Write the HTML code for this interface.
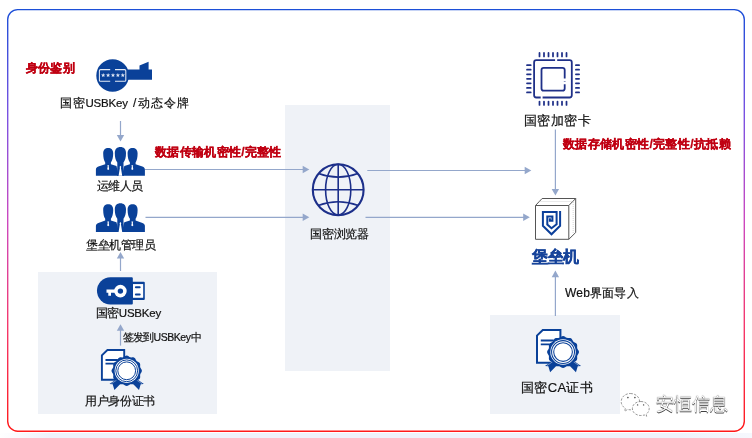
<!DOCTYPE html>
<html><head><meta charset="utf-8">
<style>
html,body{margin:0;padding:0;background:#fff;}
body{width:752px;height:438px;position:relative;overflow:hidden;font-family:"Liberation Sans",sans-serif;color:#111;}
.a{position:absolute;}
.t{position:absolute;white-space:nowrap;line-height:1;font-size:13px;will-change:transform;-webkit-text-stroke:0.2px #111;}
.red{color:#c00012;font-weight:bold;font-size:12px;-webkit-text-stroke:0.3px #c00012;letter-spacing:0.25px;}
.l1{font-size:11.5px;letter-spacing:-0.2px;}
.l2{font-size:10.5px;letter-spacing:-0.45px;}
.sl{letter-spacing:2px;}
.panel{position:absolute;background:#eff2f7;}
svg{position:absolute;left:0;top:0;}
</style></head><body>
<div class="a" style="left:0;top:433px;width:752px;height:5px;background:linear-gradient(90deg,#fff 0px,#eef2fb 50px,#eef2fb 680px,#f6f8fd 752px)"></div>
<div class="panel" style="left:285px;top:105px;width:105px;height:266px"></div>
<div class="panel" style="left:38px;top:272px;width:179px;height:142px"></div>
<div class="panel" style="left:490px;top:315px;width:130px;height:99px"></div>

<svg width="752" height="438" viewBox="0 0 752 438">
<defs>
<linearGradient id="bg" x1="0" y1="0" x2="0" y2="1">
<stop offset="0" stop-color="#1c4fd8"/>
<stop offset="0.25" stop-color="#7a52e2"/>
<stop offset="0.5" stop-color="#cc48c0"/>
<stop offset="0.75" stop-color="#f5386c"/>
<stop offset="1" stop-color="#ff1a1a"/>
</linearGradient>
</defs>
<rect x="7.7" y="9.6" width="736.6" height="421.6" rx="10" ry="10" fill="none" stroke="url(#bg)" stroke-width="1.4"/>

<!-- connector lines -->
<g stroke="#94a7cb" stroke-width="1.2" fill="none">
<line x1="120.5" y1="121" x2="120.5" y2="136"/>
<line x1="145" y1="169.5" x2="304" y2="169.5"/>
<line x1="145.5" y1="217.3" x2="304" y2="217.3"/>
<line x1="120.5" y1="257" x2="120.5" y2="271"/>
<line x1="120.5" y1="330" x2="120.5" y2="345.6"/>
<line x1="367.3" y1="170.5" x2="526" y2="170.5"/>
<line x1="365.5" y1="217.3" x2="524" y2="217.3"/>
<line x1="555.4" y1="129.6" x2="555.4" y2="189"/>
<line x1="555.4" y1="276" x2="555.4" y2="316"/>
</g>
<g fill="#94a7cb">
<path d="M120.5,141.6 L116.8,135 L124.2,135 Z"/>
<path d="M120.5,252 L116.8,258.6 L124.2,258.6 Z"/>
<path d="M120.5,324.2 L116.8,330.8 L124.2,330.8 Z"/>
<path d="M309.3,169.5 L302.7,165.8 L302.7,173.2 Z"/>
<path d="M309.3,217.3 L302.7,213.6 L302.7,221 Z"/>
<path d="M531.3,170.5 L524.7,166.8 L524.7,174.2 Z"/>
<path d="M529.8,217.3 L523.2,213.6 L523.2,221 Z"/>
<path d="M555.4,195.5 L551.7,188.9 L559.1,188.9 Z"/>
<path d="M555.4,270.6 L551.7,277.2 L559.1,277.2 Z"/>
</g>

<!-- key token icon -->
<g fill="#0a4199">
<circle cx="112.6" cy="75.5" r="16.3"/>
<path d="M126,69.4 H139.5 V65.5 L148.6,61.7 V69.4 H152 V79.7 H126 Z"/>
</g>
<g fill="none" stroke="#e4eaf5" stroke-width="1.05">
<path d="M110.2,69.6 H100.6 Q99.4,69.6 99.4,70.8 V80.2 Q99.4,81.3 100.6,81.3 H110.2"/>
<path d="M115,69.6 H124.6 Q125.8,69.6 125.8,70.8 V80.2 Q125.8,81.3 124.6,81.3 H115"/>
</g>
<g fill="#dfe6f3">
<polygon points="103.20,72.90 103.79,74.39 105.39,74.49 104.15,75.51 104.55,77.06 103.20,76.20 101.85,77.06 102.25,75.51 101.01,74.49 102.61,74.39"/>
<polygon points="108.10,72.90 108.69,74.39 110.29,74.49 109.05,75.51 109.45,77.06 108.10,76.20 106.75,77.06 107.15,75.51 105.91,74.49 107.51,74.39"/>
<polygon points="113.00,72.90 113.59,74.39 115.19,74.49 113.95,75.51 114.35,77.06 113.00,76.20 111.65,77.06 112.05,75.51 110.81,74.49 112.41,74.39"/>
<polygon points="117.90,72.90 118.49,74.39 120.09,74.49 118.85,75.51 119.25,77.06 117.90,76.20 116.55,77.06 116.95,75.51 115.71,74.49 117.31,74.39"/>
<polygon points="122.80,72.90 123.39,74.39 124.99,74.49 123.75,75.51 124.15,77.06 122.80,76.20 121.45,77.06 121.85,75.51 120.61,74.49 122.21,74.39"/>
</g>

<!-- people icons -->
<g id="ppl">
<g fill="#0a4199">
<path d="M103.2,153.6 C103.2,149.6 105.2,147.9 108.2,147.9 C111.2,147.9 113.2,149.6 113.2,153.6 C113.2,157.6 112.3,160.6 110.9,162.4 V164.2 L116.5,165.9 L118.8,175.8 H95.9 V169.8 C95.9,168.2 96.8,167.2 98.4,166.6 L105.2,164.2 V162.4 C103.9,160.6 103.2,157.6 103.2,153.6 Z"/>
<path d="M114.8,153 C114.8,149 117,147 120.4,147 C123.8,147 126,149 126,153 C126,157.5 125.1,160.7 123.5,162.4 V166 L124,175.8 H117 L117.3,166 V162.4 C115.7,160.7 114.8,157.5 114.8,153 Z"/>
<path d="M127.6,153.6 C127.6,149.6 129.6,147.9 132.6,147.9 C135.6,147.9 137.6,149.6 137.6,153.6 C137.6,157.6 136.9,160.6 135.6,162.4 V164.2 L142.4,166.6 C144,167.2 144.9,168.2 144.9,169.8 V175.8 H122 L124.3,165.9 L129.9,164.2 V162.4 C128.5,160.6 127.6,157.6 127.6,153.6 Z"/>
</g>
<g fill="#fff">
<path d="M107.3,165.2 H109.1 L108.7,166.6 L109.2,169.2 L108.2,170 L107.2,169.2 L107.7,166.6 Z"/>
<path d="M131.4,165.2 H133.2 L132.8,166.6 L133.3,169.2 L132.3,170 L131.3,169.2 L131.8,166.6 Z"/>
<path d="M120.4,165.8 L121.3,167 L120.9,167.8 L122.2,175.8 H118.6 L119.9,167.8 L119.5,167 Z"/>
</g>

</g>
<use href="#ppl" transform="translate(0,56.3)"/>

<!-- USB key icon -->
<path fill="#0a4199" d="M110.5,277.3 H131.8 Q132.8,277.3 132.8,278.3 V303.4 Q132.8,304.4 131.8,304.4 H110.5 A13.55,13.55 0 0 1 110.5,277.3 Z"/>
<path fill="#0a4199" fill-rule="evenodd" d="M132,281.8 H143.8 Q144.8,281.8 144.8,282.8 V299 Q144.8,300 143.8,300 H132 Z M133,284.2 V297.6 H143.1 V284.2 Z"/>
<path fill="#fff" d="M133,284.2 V297.6 H143.1 V284.2 Z"/>
<g stroke="#0a4199" stroke-width="2" stroke-linecap="round">
<line x1="135.9" y1="287.3" x2="139.7" y2="287.3"/>
<line x1="135.9" y1="294.4" x2="139.7" y2="294.4"/>
</g>
<g fill="#fff">
<circle cx="120.4" cy="291.1" r="6.3"/>
<path d="M106.5,289.4 H115 V292.8 H111 V295.7 H108.3 V292.8 H106.5 Z"/>
</g>
<circle cx="120.4" cy="291.1" r="2.7" fill="#0a4199"/>

<!-- cert icons -->
<g transform="translate(101.9,350)">
<g id="cert">
<path d="M5.5,0 H22.3 V29.8 H0 V5.3 Z" fill="#fff" stroke="#0a4199" stroke-width="1.9" stroke-linejoin="miter"/>
<path d="M3.6,10 H16 M3.6,13.7 H12" stroke="#0a4199" stroke-width="1.8"/>
<g transform="translate(0.2,0.7)">
<path d="M15.6,27.6 L7.4,33.3 L10.6,33.6 L12.3,39.4 L20.2,31.2 Z M33.6,27.6 L41.8,33.3 L38.6,33.6 L36.9,39.4 L29,31.2 Z" fill="#0a4199"/>
<path d="M9.3,33 L15.5,28.8 M39.9,33 L33.7,28.8" stroke="#fff" stroke-width="0.5" opacity="0.8"/>
<path d="M24.60,4.90 L25.58,5.11 L26.51,5.62 L27.37,6.20 L28.22,6.58 L29.16,6.68 L30.19,6.61 L31.25,6.63 L32.20,6.94 L32.95,7.61 L33.49,8.52 L33.95,9.44 L34.50,10.20 L35.26,10.75 L36.18,11.21 L37.09,11.75 L37.76,12.50 L38.07,13.45 L38.09,14.51 L38.02,15.54 L38.12,16.48 L38.50,17.33 L39.08,18.19 L39.59,19.12 L39.80,20.10 L39.59,21.08 L39.08,22.01 L38.50,22.87 L38.12,23.72 L38.02,24.66 L38.09,25.69 L38.07,26.75 L37.76,27.70 L37.09,28.45 L36.18,28.99 L35.26,29.45 L34.50,30.00 L33.95,30.76 L33.49,31.68 L32.95,32.59 L32.20,33.26 L31.25,33.57 L30.19,33.59 L29.16,33.52 L28.22,33.62 L27.37,34.00 L26.51,34.58 L25.58,35.09 L24.60,35.30 L23.62,35.09 L22.69,34.58 L21.83,34.00 L20.98,33.62 L20.04,33.52 L19.01,33.59 L17.95,33.57 L17.00,33.26 L16.25,32.59 L15.71,31.68 L15.25,30.76 L14.70,30.00 L13.94,29.45 L13.02,28.99 L12.11,28.45 L11.44,27.70 L11.13,26.75 L11.11,25.69 L11.18,24.66 L11.08,23.72 L10.70,22.87 L10.12,22.01 L9.61,21.08 L9.40,20.10 L9.61,19.12 L10.12,18.19 L10.70,17.33 L11.08,16.48 L11.18,15.54 L11.11,14.51 L11.13,13.45 L11.44,12.50 L12.11,11.75 L13.02,11.21 L13.94,10.75 L14.70,10.20 L15.25,9.44 L15.71,8.52 L16.25,7.61 L17.00,6.94 L17.95,6.63 L19.01,6.61 L20.04,6.68 L20.98,6.58 L21.83,6.20 L22.69,5.62 L23.62,5.11 Z" fill="#0a4199"/>
<circle cx="24.6" cy="20.1" r="12.1" fill="#fff"/>
<circle cx="24.6" cy="20.1" r="10.9" fill="none" stroke="#0a4199" stroke-width="1.0"/>
<circle cx="24.6" cy="20.1" r="8.9" fill="none" stroke="#0a4199" stroke-width="1.0"/>
</g>
</g>
</g>
<g transform="translate(537,330) scale(1.05)">
<g>
<path d="M5.5,0 H22.3 V31.2 H0 V5.3 Z" fill="#fff" stroke="#0a4199" stroke-width="1.9" stroke-linejoin="miter"/>
<path d="M3.6,10 H16 M3.6,13.7 H12" stroke="#0a4199" stroke-width="1.8"/>
<g transform="translate(0.2,0.9)">
<path d="M15.6,27.6 L7.4,33.3 L10.6,33.6 L12.3,39.4 L20.2,31.2 Z M33.6,27.6 L41.8,33.3 L38.6,33.6 L36.9,39.4 L29,31.2 Z" fill="#0a4199"/>
<path d="M9.3,33 L15.5,28.8 M39.9,33 L33.7,28.8" stroke="#fff" stroke-width="0.5" opacity="0.8"/>
<path d="M24.60,4.90 L25.58,5.11 L26.51,5.62 L27.37,6.20 L28.22,6.58 L29.16,6.68 L30.19,6.61 L31.25,6.63 L32.20,6.94 L32.95,7.61 L33.49,8.52 L33.95,9.44 L34.50,10.20 L35.26,10.75 L36.18,11.21 L37.09,11.75 L37.76,12.50 L38.07,13.45 L38.09,14.51 L38.02,15.54 L38.12,16.48 L38.50,17.33 L39.08,18.19 L39.59,19.12 L39.80,20.10 L39.59,21.08 L39.08,22.01 L38.50,22.87 L38.12,23.72 L38.02,24.66 L38.09,25.69 L38.07,26.75 L37.76,27.70 L37.09,28.45 L36.18,28.99 L35.26,29.45 L34.50,30.00 L33.95,30.76 L33.49,31.68 L32.95,32.59 L32.20,33.26 L31.25,33.57 L30.19,33.59 L29.16,33.52 L28.22,33.62 L27.37,34.00 L26.51,34.58 L25.58,35.09 L24.60,35.30 L23.62,35.09 L22.69,34.58 L21.83,34.00 L20.98,33.62 L20.04,33.52 L19.01,33.59 L17.95,33.57 L17.00,33.26 L16.25,32.59 L15.71,31.68 L15.25,30.76 L14.70,30.00 L13.94,29.45 L13.02,28.99 L12.11,28.45 L11.44,27.70 L11.13,26.75 L11.11,25.69 L11.18,24.66 L11.08,23.72 L10.70,22.87 L10.12,22.01 L9.61,21.08 L9.40,20.10 L9.61,19.12 L10.12,18.19 L10.70,17.33 L11.08,16.48 L11.18,15.54 L11.11,14.51 L11.13,13.45 L11.44,12.50 L12.11,11.75 L13.02,11.21 L13.94,10.75 L14.70,10.20 L15.25,9.44 L15.71,8.52 L16.25,7.61 L17.00,6.94 L17.95,6.63 L19.01,6.61 L20.04,6.68 L20.98,6.58 L21.83,6.20 L22.69,5.62 L23.62,5.11 Z" fill="#0a4199"/>
<circle cx="24.6" cy="20.1" r="12.1" fill="#fff"/>
<circle cx="24.6" cy="20.1" r="10.9" fill="none" stroke="#0a4199" stroke-width="1.0"/>
<circle cx="24.6" cy="20.1" r="8.9" fill="none" stroke="#0a4199" stroke-width="1.0"/>
</g>
</g>
</g>

<!-- globe -->
<g fill="none" stroke="#1c2f8a" stroke-width="1.6">
<circle cx="338.2" cy="189.7" r="25.4" stroke-width="2.1"/>
<ellipse cx="338.2" cy="189.7" rx="12.6" ry="25.4"/>
<line x1="338.2" y1="164.3" x2="338.2" y2="215.1"/>
<line x1="312.8" y1="189.7" x2="363.6" y2="189.7"/>
<path d="M318.6,173.4 Q338.2,180.8 357.8,173.4"/>
<path d="M318.2,205.5 Q338.2,198.1 358.2,205.5"/>
</g>
<!-- chip -->
<g fill="none" stroke="#1f3088" stroke-width="1.8" stroke-linecap="round">
<path d="M555.1,60.2 H536.3 Q534.1,60.2 534.1,62.4 V95.3 Q534.1,97.5 536.3,97.5 H540.7 M542.6,97.5 H569.6 Q571.8,97.5 571.8,95.3 V62.4 Q571.8,60.2 569.6,60.2 H557.2" stroke-linecap="butt"/>
<path d="M564.7,78.6 V70 Q564.7,67.8 562.5,67.8 H543.7 Q541.5,67.8 541.5,70 V88.4 Q541.5,90.6 543.7,90.6 H562.5 Q564.7,90.6 564.7,88.4 V84.3 M564.7,81.2 V81.8" stroke-linecap="butt"/>
<path d="M539.5,52.9 V56.4 M544.0,52.9 V56.4 M548.5,52.9 V56.4 M553.0,52.9 V56.4 M557.5,52.9 V56.4 M562.0,52.9 V56.4 M566.5,52.9 V56.4 M539.5,101.6 V104.9 M544.0,101.6 V104.9 M548.5,101.6 V104.9 M553.0,101.6 V104.9 M557.5,101.6 V104.9 M562.0,101.6 V104.9 M566.5,101.6 V104.9 M527,65.2 H530.7 M527,69.7 H530.7 M527,74.3 H530.7 M527,78.8 H530.7 M527,83.3 H530.7 M527,87.9 H530.7 M527,92.4 H530.7 M575.9,65.2 H579.1 M575.9,69.7 H579.1 M575.9,74.3 H579.1 M575.9,78.8 H579.1 M575.9,83.3 H579.1 M575.9,87.9 H579.1 M575.9,92.4 H579.1" stroke-width="1.75"/>
</g>
<!-- fortress box -->
<g fill="none" stroke="#555" stroke-width="1">
<path d="M535.5,205.5 H568.8 V239.3 H535.5 Z"/>
<path d="M535.5,205.5 L542.1,198.5 H575.7 L568.8,205.5"/>
<path d="M575.7,198.5 V232.5 L568.8,239.3"/>
</g>
<g fill="none" stroke="#bbb" stroke-width="0.6" stroke-dasharray="1,1">
<path d="M539.5,201.5 H572.5"/>
<path d="M573.2,202 V234"/>
</g>
<path d="M560.1,211 V225.8 L551.5,234.3 L542.9,225.8 V212 H556.6 V224.2 L551.5,228.3 L547.3,224.5 V216.4 H552.4 V220.8 H549.9 V218.2" fill="none" stroke="#0b3f9a" stroke-width="2"/>
</svg>

<!-- text -->
<div class="t red" style="left:26.18px;top:61.84px;font-size:12px;letter-spacing:0.19px;">身份鉴别</div>
<div class="t" style="left:59.72px;top:97.28px;font-size:12px;letter-spacing:0.73px;">国密<span class="l1">USBKey</span><span class="sl"> /</span>动态令牌</div>
<div class="t" style="left:97.29px;top:180.38px;font-size:12px;letter-spacing:-0.55px;">运维人员</div>
<div class="t red" style="left:154.50px;top:146.08px;font-size:12px;letter-spacing:0.31px;">数据传输机密性/完整性</div>
<div class="t" style="left:85.52px;top:238.62px;font-size:12px;letter-spacing:-0.46px;">堡垒机管理员</div>
<div class="t" style="left:95.64px;top:306.84px;font-size:12px;letter-spacing:-0.61px;">国密<span class="l1">USBKey</span></div>
<div class="t" style="left:123.06px;top:332.06px;font-size:10.5px;letter-spacing:-0.81px;">签发到<span class="l2">USBKey</span>中</div>
<div class="t" style="left:85.39px;top:394.72px;font-size:12px;letter-spacing:-0.33px;">用户身份证书</div>
<div class="t" style="left:309.60px;top:227.60px;font-size:12px;letter-spacing:-0.18px;">国密浏览器</div>
<div class="t" style="left:524.16px;top:114.06px;font-size:13px;letter-spacing:0.44px;">国密加密卡</div>
<div class="t red" style="left:562.50px;top:138.20px;font-size:12px;letter-spacing:0.35px;">数据存储机密性/完整性/抗抵赖</div>
<div class="t" style="left:531.50px;top:249.20px;font-size:16px;letter-spacing:-0.28px;font-weight:bold;color:#16439a;-webkit-text-stroke:0.35px #16439a;">堡垒机</div>
<div class="t" style="left:565.40px;top:287.16px;font-size:12px;letter-spacing:0.20px;">Web界面导入</div>
<div class="t" style="left:520.72px;top:380.72px;font-size:13px;letter-spacing:0.34px;">国密CA证书</div>
<!-- /text -->
<!-- watermark -->
<svg width="752" height="438" viewBox="0 0 752 438" style="position:absolute;left:0;top:0">
<g fill="#fff" stroke="#555" stroke-width="0.6" stroke-dasharray="2.4,1.4">
<path d="M630.4,393.5 C635.6,393.5 639.6,397 639.6,401.6 C639.6,406.2 635.6,409.8 630.4,409.8 C629.4,409.8 628.5,409.7 627.6,409.4 L624.7,411.3 L625.3,408.3 C622.7,406.8 621.2,404.3 621.2,401.6 C621.2,397 625.2,393.5 630.4,393.5 Z"/>
<path d="M640.8,401.5 C645.6,401.5 649.2,404.6 649.2,408.5 C649.2,410.8 648.1,412.7 646.2,414 L646.7,416.4 L644.3,415 C643.2,415.3 642,415.5 640.8,415.5 C636,415.5 632.4,412.4 632.4,408.5 C632.4,404.6 636,401.5 640.8,401.5 Z"/>
</g>
<g fill="#444">
<circle cx="627.9" cy="397.6" r="0.8"/><circle cx="634.9" cy="397.6" r="0.8"/>
<circle cx="637.6" cy="404.9" r="0.7"/><circle cx="643.6" cy="404.9" r="0.7"/>
</g>
</svg>
<div class="t" style="left:655.6px;top:395.4px;font-size:18px;color:#fff;text-shadow:0 0 0.9px #222,0.4px 0.6px 0.6px #444;-webkit-text-stroke:0;letter-spacing:0px">安恒信息</div>
</body></html>
